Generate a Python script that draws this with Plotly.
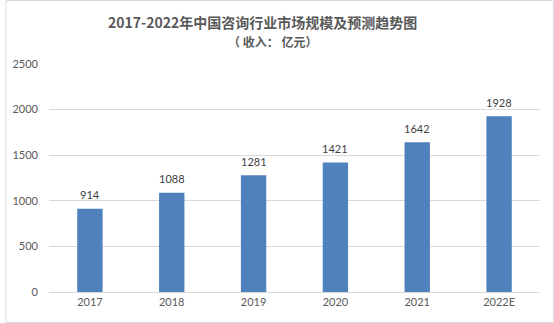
import plotly.graph_objects as go

# Consulting industry market size, 2017-2022 (2022 is an estimate), unit: 100M CNY
years = ["2017", "2018", "2019", "2020", "2021", "2022E"]
market_size = [914, 1088, 1281, 1421, 1642, 1928]
y_ticks = [0, 500, 1000, 1500, 2000, 2500]

W, H = 554, 323
ML, MR, MT, MB = 44, 14, 64, 31
PW, PH = W - ML - MR, H - MT - MB

num_font = "Lato, Liberation Sans, sans-serif"
cjk_font = "Noto Sans CJK SC, sans-serif"

fig = go.Figure(
    go.Bar(
        x=years,
        y=market_size,
        marker=dict(color="#4F81BD", line=dict(width=0)),
        hoverinfo="x+y",
    )
)

def px_x(px):
    return (px - ML) / PW

def px_y(py):
    return (H - MB - py) / PH

# value labels above each bar (category axis: position by category index)
value_labels = [
    dict(
        x=i, y=v, xref="x", yref="y", text=str(v),
        showarrow=False, xanchor="center", yanchor="middle", yshift=14,
        font=dict(family=num_font, size=11, color="#404040"),
    )
    for i, v in enumerate(market_size)
]

fig.update_layout(
    width=W,
    height=H,
    margin=dict(l=ML, r=MR, t=MT, b=MB),
    paper_bgcolor="white",
    plot_bgcolor="white",
    bargap=0.69,
    showlegend=False,
    font=dict(family=num_font, size=11, color="#595959"),
    xaxis=dict(
        type="category",
        range=[-0.5, len(years) - 0.5],
        showgrid=False,
        showline=True,
        linecolor="#D9D9D9",
        linewidth=1,
        ticks="",
        tickfont=dict(family=num_font, size=11, color="#595959"),
        fixedrange=True,
    ),
    yaxis=dict(
        range=[0, 2500],
        tickvals=y_ticks,
        showgrid=True,
        gridcolor="#D9D9D9",
        gridwidth=1,
        zeroline=False,
        showline=False,
        ticks="",
        ticklabelstandoff=10,
        tickfont=dict(family=num_font, size=11, color="#595959"),
        fixedrange=True,
    ),
    annotations=value_labels + [
        dict(
            text="<b>2017-2022年中国咨询行业市场规模及预测趋势图</b>",
            x=px_x(260), y=px_y(22), xref="paper", yref="paper",
            xanchor="center", yanchor="middle", showarrow=False,
            font=dict(family=cjk_font, size=14, color="#595959"),
        ),
        dict(
            text="<b>（ 收入： 亿元）</b>",
            x=px_x(270), y=px_y(41), xref="paper", yref="paper",
            xanchor="center", yanchor="middle", showarrow=False,
            font=dict(family=cjk_font, size=12, color="#595959"),
        ),
    ],
    shapes=[
        dict(
            type="rect", xref="paper", yref="paper",
            x0=px_x(0.5), x1=px_x(W - 0.5), y0=px_y(H - 0.5), y1=px_y(0.5),
            line=dict(color="#D9D9D9", width=1), fillcolor="rgba(0,0,0,0)",
            layer="below",
        )
    ],
)

fig.write_html("out.html")
